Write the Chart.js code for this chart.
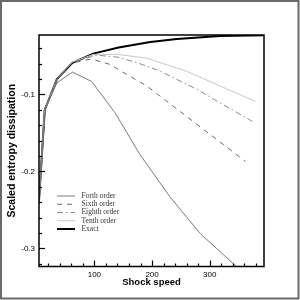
<!DOCTYPE html>
<html>
<head>
<meta charset="utf-8">
<script src="https://cdn.jsdelivr.net/npm/chart.js@4"></script>
<style>
  html, body { margin: 0; padding: 0; background: #fff; }
  #wrap { width: 300px; height: 300px; }
</style>
</head>
<body>
<div id="wrap"><canvas id="chart" width="300" height="300"></canvas></div>
<script>
// values
const labels = ['Forth order', 'Sixth order', 'Eighth order', 'Tenth order', 'Exact'];

const forthX = [4, 14, 35, 62, 95, 136, 179, 231, 284, 350];
const forthY = [-0.238, -0.12, -0.085, -0.071, -0.083, -0.124, -0.178, -0.233, -0.281, -0.326];

const sixthX = [4, 14, 35, 62, 95, 127, 156, 191, 278, 362];
const sixthY = [-0.238, -0.12, -0.08, -0.059, -0.054, -0.061, -0.074, -0.089, -0.139, -0.187];

const eighthX = [4, 14, 35, 62, 104, 139, 174, 214, 278, 318, 374];
const eighthY = [-0.238, -0.12, -0.08, -0.058, -0.049, -0.0514, -0.0587, -0.0697, -0.0935, -0.111, -0.135];

const tenthX = [4, 14, 35, 62, 98, 141, 191, 260, 318, 379];
const tenthY = [-0.238, -0.12, -0.08, -0.058, -0.048, -0.048, -0.053, -0.070, -0.089, -0.109];

const exactX = [4, 14, 35, 62, 98, 142, 197, 243, 318, 394];
const exactY = [-0.238, -0.12, -0.08, -0.059, -0.047, -0.039, -0.032, -0.028, -0.024, -0.023];

const xMajor = [100, 200, 300];
const yMajor = [-0.1, -0.2, -0.3];

function pts(xs, ys) {
    return xs.map((x, i) => ({ x: x, y: ys[i] }));
}

function isMajor(v, list) {
    return list.some(m => Math.abs(m - v) < 1e-6);
}

// inward tick marks on left and bottom axes + plot box + legend + outer frame
const decorPlugin = {
    id: 'decor',
    beforeDraw(chart) {
        const ctx = chart.ctx;
        ctx.save();
        ctx.fillStyle = '#fff';
        ctx.fillRect(0, 0, chart.width, chart.height);
        ctx.restore();
    },
    afterDraw(chart) {
        const ctx = chart.ctx;
        const a = chart.chartArea;
        const xs = chart.scales.x;
        const ys = chart.scales.y;
        ctx.save();

        // plot box
        ctx.strokeStyle = '#000';
        ctx.lineWidth = 1.5;
        ctx.strokeRect(a.left, a.top, a.right - a.left, a.bottom - a.top);

        // ticks
        ctx.lineWidth = 1.2;
        xs.ticks.forEach(t => {
            const px = Math.round(xs.getPixelForValue(t.value)) + 0.5;
            const len = isMajor(t.value, xMajor) ? 6 : 3;
            ctx.beginPath();
            ctx.moveTo(px, a.bottom);
            ctx.lineTo(px, a.bottom - len);
            ctx.stroke();
        });
        ys.ticks.forEach(t => {
            const py = Math.round(ys.getPixelForValue(t.value)) + 0.5;
            const len = isMajor(t.value, yMajor) ? 6 : 3;
            ctx.beginPath();
            ctx.moveTo(a.left, py);
            ctx.lineTo(a.left + len, py);
            ctx.stroke();
        });

        // legend
        ctx.font = "7.5px 'Liberation Serif', serif";
        ctx.textBaseline = 'middle';
        ctx.textAlign = 'left';
        chart.data.datasets.forEach((ds, i) => {
            const y = 196 + i * 8.25;
            ctx.strokeStyle = ds.borderColor;
            ctx.lineWidth = ds.borderWidth;
            ctx.setLineDash(ds.borderDash || []);
            ctx.beginPath();
            ctx.moveTo(57, y);
            ctx.lineTo(75, y);
            ctx.stroke();
            ctx.setLineDash([]);
            ctx.fillStyle = '#333';
            ctx.fillText(ds.label, 81.5, y);
        });

        // outer frame
        ctx.strokeStyle = '#6a6a6a';
        ctx.lineWidth = 2;
        ctx.strokeRect(1, 1, 297.5, 297.5);
        ctx.restore();
    }
};

new Chart(document.getElementById('chart').getContext('2d'), {
    type: 'line',
    data: {
        datasets: [{
            label: labels[0],
            data: pts(forthX, forthY),
            borderColor: '#7a7a7a',
            borderWidth: 1
        }, {
            label: labels[1],
            data: pts(sixthX, sixthY),
            borderColor: '#6a6a6a',
            borderWidth: 1,
            borderDash: [5, 5]
        }, {
            label: labels[2],
            data: pts(eighthX, eighthY),
            borderColor: '#8a8a8a',
            borderWidth: 1,
            borderDash: [6, 3, 1.5, 3]
        }, {
            label: labels[3],
            data: pts(tenthX, tenthY),
            borderColor: '#c8c8c8',
            borderWidth: 1
        }, {
            label: labels[4],
            data: pts(exactX, exactY),
            borderColor: '#000',
            borderWidth: 2
        }]
    },
    options: {
        responsive: false,
        animation: false,
        devicePixelRatio: 1,
        elements: { point: { radius: 0 }, line: { tension: 0 } },
        layout: { padding: { left: 0, top: 35, right: 36, bottom: 0 } },
        plugins: { legend: { display: false }, tooltip: { enabled: false } },
        scales: {
            x: {
                type: 'linear',
                min: 4,
                max: 394,
                grid: { display: false, drawTicks: false },
                border: { display: false },
                afterFit(scale) { scale.height = 33.5; },
                ticks: {
                    stepSize: 20,
                    includeBounds: false,
                    autoSkip: false,
                    maxRotation: 0,
                    padding: 3,
                    color: '#000',
                    font: { family: "'Liberation Sans', Arial, sans-serif", size: 8 },
                    callback: v => isMajor(v, xMajor) ? String(Math.round(v)) : ''
                },
                title: {
                    display: true,
                    text: 'Shock speed',
                    color: '#000',
                    padding: { top: 0, bottom: 11.5 },
                    font: { family: "'Liberation Sans', Arial, sans-serif", size: 9.5, weight: 'bold' }
                }
            },
            y: {
                type: 'linear',
                min: -0.3234,
                max: -0.0228,
                grid: { display: false, drawTicks: false },
                border: { display: false },
                afterFit(scale) { scale.width = 39; },
                ticks: {
                    stepSize: 0.02,
                    includeBounds: false,
                    autoSkip: false,
                    padding: 4,
                    color: '#000',
                    font: { family: "'Liberation Sans', Arial, sans-serif", size: 8 },
                    callback: v => isMajor(v, yMajor) ? v.toFixed(1) : ''
                },
                title: {
                    display: true,
                    text: 'Scaled entropy dissipation',
                    color: '#000',
                    padding: { top: 6, bottom: 0 },
                    font: { family: "'Liberation Sans', Arial, sans-serif", size: 10.5, weight: 'bold' }
                }
            }
        }
    },
    plugins: [decorPlugin]
});
</script>
</body>
</html>
